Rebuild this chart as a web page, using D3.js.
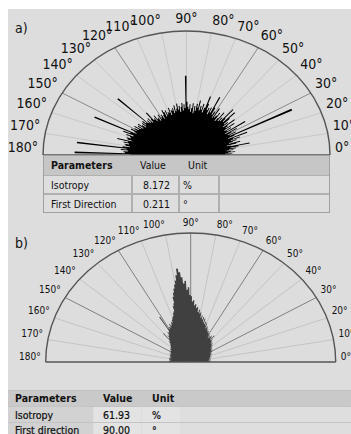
<!DOCTYPE html>
<html><head><meta charset="utf-8">
<script src="https://cdn.jsdelivr.net/npm/d3@7"></script>
<style>html,body{margin:0;padding:0;background:#fff}svg{display:block}</style>
</head><body>
<svg id="chart" width="351" height="434"></svg>
<script>
// Polar tick marks (degrees) and their labels
const tickAngles = [0, 10, 20, 30, 40, 50, 60, 70, 80, 90, 100, 110, 120, 130, 140, 150, 160, 170, 180];
const tickLabels = ["0°", "10°", "20°", "30°", "40°", "50°", "60°", "70°", "80°", "90°", "100°", "110°", "120°", "130°", "140°", "150°", "160°", "170°", "180°"];
const majorTicks = [30, 60, 90, 120, 150];

// Directional rose a): relative amplitude per 1° bin (bin i covers i..i+1°)
const roseA = [
  .30,.27,.32,.29,.34,.31,.28,.33,.30,.35,
  .31,.37,.45,.32,.29,.36,.39,.31,.34,.37,
  .33,.40,.35,.46,.32,.37,.82,.34,.39,.33,
  .36,.41,.32,.49,.34,.38,.33,.42,.35,.37,
  .44,.34,.39,.36,.42,.48,.37,.40,.49,.36,
  .39,.35,.43,.37,.34,.41,.38,.36,.44,.35,
  .40,.37,.43,.52,.38,.42,.36,.41,.39,.44,
  .50,.40,.36,.43,.38,.41,.37,.45,.39,.42,
  .36,.40,.34,.42,.38,.35,.41,.37,.39,.43,
  .64,.38,.41,.36,.42,.39,.35,.40,.37,.42,
  .38,.36,.41,.35,.39,.37,.38,.34,.40,.36,
  .37,.35,.39,.34,.38,.40,.36,.33,.37,.35,
  .34,.38,.33,.36,.35,.39,.34,.37,.36,.44,
  .38,.35,.40,.36,.39,.37,.66,.38,.41,.37,
  .40,.36,.39,.42,.37,.41,.38,.43,.39,.42,
  .40,.44,.41,.39,.71,.43,.48,.40,.45,.42,
  .41,.44,.43,.40,.50,.42,.45,.41,.44,.43,
  .40,.45,.77,.42,.46,.41,.44,.43,.78,.39
];

// Directional rose b): relative amplitude per 1° bin
const roseB = [
  .13,.14,.13,.14,.13,.12,.14,.13,.14,.13,
  .14,.13,.14,.13,.14,.15,.14,.15,.14,.15,
  .14,.15,.16,.15,.16,.15,.16,.15,.17,.16,
  .17,.16,.17,.18,.17,.18,.17,.18,.19,.18,
  .19,.20,.19,.21,.20,.21,.20,.22,.21,.23,
  .22,.26,.22,.24,.25,.23,.24,.22,.25,.24,
  .26,.25,.27,.26,.28,.27,.29,.30,.28,.32,
  .30,.33,.31,.35,.32,.36,.34,.37,.35,.39,
  .38,.41,.39,.43,.42,.45,.44,.48,.47,.51,
  .52,.58,.56,.63,.61,.66,.70,.73,.68,.64,
  .61,.58,.55,.52,.47,.45,.41,.40,.38,.37,
  .36,.35,.33,.34,.32,.31,.33,.30,.31,.29,
  .30,.41,.28,.27,.28,.26,.25,.26,.24,.23,
  .29,.22,.21,.22,.20,.20,.19,.19,.18,.18,
  .18,.17,.18,.17,.17,.17,.16,.16,.17,.16,
  .16,.16,.15,.16,.15,.15,.16,.15,.15,.15,
  .15,.15,.14,.15,.15,.14,.15,.14,.15,.15,
  .15,.14,.15,.15,.14,.15,.14,.15,.15,.15
];

// Parameter tables
const paramsA = ["Parameters", "Isotropy", "First Direction"];
const valuesA = ["Value", "8.172", "0.211"];
const unitsA  = ["Unit", "%", "°"];
const paramsB = ["Parameters", "Isotropy", "First direction"];
const valuesB = ["Value", "61.93", "90.00"];
const unitsB  = ["Unit", "%", "°"];

const FONT = "'DejaVu Sans Condensed', 'DejaVu Sans', sans-serif";
const svg = d3.select("#chart");

svg.append("rect").attr("x", 8).attr("y", 9).attr("width", 343).attr("height", 425).attr("fill", "#dddddd");

const angle = d3.scaleLinear().domain([0, 180]).range([0, Math.PI]);

function rosePanel(cfg) {
  const { cx, cy, rx, ry, values, fill, labelSize, gap, lift, spokeLight, spokeDark, ninetyDark } = cfg;
  const rr = d3.scaleLinear().domain([0, 1]).range([0, 100]);
  const px = (deg, r) => cx + rx * r * Math.cos(angle(deg));
  const py = (deg, r) => cy - ry * r * Math.sin(angle(deg));
  const g = svg.append("g");

  // spokes
  g.selectAll("line.spoke").data(tickAngles.filter(d => d > 0 && d < 180)).join("line")
    .attr("x1", cx).attr("y1", cy)
    .attr("x2", d => px(d, 1)).attr("y2", d => py(d, 1))
    .attr("stroke", d => (majorTicks.includes(d) && (d !== 90 || ninetyDark)) ? spokeDark : spokeLight)
    .attr("stroke-width", 1);

  // rose histogram as a stepped radial outline
  const pts = [{ a: 0, r: 0 }];
  values.forEach((v, i) => { pts.push({ a: i, r: v }); pts.push({ a: i + 1, r: v }); });
  pts.push({ a: 180, r: 0 });
  const radial = d3.lineRadial()
    .angle(d => Math.PI / 2 - angle(d.a))
    .radius(d => rr(d.r));
  g.append("g")
    .attr("transform", `translate(${cx},${cy}) scale(${rx / 100},${ry / 100})`)
    .append("path").attr("d", radial(pts) + "Z").attr("fill", fill);

  // outer arc and baseline
  g.append("path")
    .attr("d", `M${cx - rx},${cy} A${rx},${ry} 0 0 1 ${cx + rx},${cy}`)
    .attr("fill", "none").attr("stroke", "#555").attr("stroke-width", 1.4);
  g.append("line").attr("x1", cx - rx).attr("x2", cx + rx).attr("y1", cy).attr("y2", cy)
    .attr("stroke", "#555").attr("stroke-width", 1.4);

  // degree labels
  g.selectAll("text.tick").data(tickAngles).join("text")
    .attr("x", d => cx + (rx + gap) * Math.cos(angle(d)))
    .attr("y", d => cy - (ry + gap) * Math.sin(angle(d)) - lift)
    .attr("text-anchor", d => d < 88 ? "start" : d > 92 ? "end" : "middle")
    .attr("font-family", FONT).attr("font-size", labelSize).attr("fill", "#111")
    .text((d, i) => tickLabels[i]);
}

rosePanel({ cx: 186.5, cy: 155, rx: 143.5, ry: 124, values: roseA, fill: "#000",
  labelSize: 14, gap: 5, lift: 3, spokeLight: "#c8c8c8", spokeDark: "#8a8a8a", ninetyDark: false });
rosePanel({ cx: 190.7, cy: 362, rx: 145, ry: 129, values: roseB, fill: "#404040",
  labelSize: 10, gap: 5, lift: 2, spokeLight: "#c4c4c4", spokeDark: "#808080", ninetyDark: true });

// panel letters
svg.append("text").attr("x", 15).attr("y", 33).attr("font-family", FONT).attr("font-size", 14).attr("fill", "#111").text("a)");
svg.append("text").attr("x", 15).attr("y", 248).attr("font-family", FONT).attr("font-size", 14).attr("fill", "#111").text("b)");

// table a
(function () {
  const x0 = 43, x1 = 330, rows = [155, 175, 194, 213];
  const cols = [43, 132, 179, 219, 330];
  const g = svg.append("g");
  g.append("rect").attr("x", x0).attr("y", rows[0]).attr("width", x1 - x0).attr("height", rows[1] - rows[0]).attr("fill", "#c6c6c6");
  for (let r = 1; r < 3; r++) {
    for (let c = 0; c < 4; c++) {
      g.append("rect").attr("x", cols[c] + 0.5).attr("y", rows[r] + 0.5)
        .attr("width", cols[c + 1] - cols[c] - 1).attr("height", rows[r + 1] - rows[r] - 1)
        .attr("fill", "#dedede").attr("stroke", "#b0b0b0");
    }
  }
  g.append("rect").attr("x", x0 + 0.5).attr("y", rows[0] + 0.5).attr("width", x1 - x0 - 1).attr("height", rows[3] - rows[0] - 1)
    .attr("fill", "none").attr("stroke", "#a0a0a0");
  const base = [169, 189, 208];
  paramsA.forEach((t, i) => g.append("text").attr("x", 51).attr("y", base[i]).attr("font-family", FONT)
    .attr("font-size", 10.5).attr("font-weight", i === 0 ? "bold" : "normal").attr("fill", "#111").text(t));
  valuesA.forEach((t, i) => g.append("text").attr("x", i === 0 ? 140 : 170).attr("y", base[i])
    .attr("text-anchor", i === 0 ? "start" : "end").attr("font-family", FONT).attr("font-size", 10.5).attr("fill", "#111").text(t));
  unitsA.forEach((t, i) => g.append("text").attr("x", i === 0 ? 188 : 183).attr("y", base[i]).attr("font-family", FONT)
    .attr("font-size", 10.5).attr("fill", "#111").text(t));
})();

// table b
(function () {
  const rows = [390, 406, 422, 438];
  const cols = [8, 94, 142, 181, 351];
  const cellFill = ["#d2d2d2", "#e3e3e3", "#e3e3e3", "#dedede"];
  const g = svg.append("g");
  g.append("rect").attr("x", 8).attr("y", rows[0]).attr("width", 343).attr("height", rows[1] - rows[0]).attr("fill", "#c9c9c9");
  g.append("line").attr("x1", 8).attr("x2", 351).attr("y1", rows[0] + 0.5).attr("y2", rows[0] + 0.5).attr("stroke", "#c2c2c2");
  for (let r = 1; r < 3; r++) {
    for (let c = 0; c < 4; c++) {
      g.append("rect").attr("x", cols[c]).attr("y", rows[r] + 1)
        .attr("width", cols[c + 1] - cols[c] - 1).attr("height", rows[r + 1] - rows[r] - 1)
        .attr("fill", cellFill[c]);
    }
    g.append("line").attr("x1", 8).attr("x2", 351).attr("y1", rows[r] + 0.5).attr("y2", rows[r] + 0.5).attr("stroke", "#c4c4c4");
  }
  const base = [402, 419, 434];
  const style = (s, i) => s.attr("font-family", FONT).attr("font-size", 10.5).attr("fill", "#111")
    .attr("font-weight", i === 0 ? "bold" : "normal").attr("stroke", i === 0 ? "none" : "#111").attr("stroke-width", 0.22);
  paramsB.forEach((t, i) => style(g.append("text").attr("x", 15).attr("y", base[i]), i).text(t));
  valuesB.forEach((t, i) => style(g.append("text").attr("x", 103).attr("y", base[i]), i).text(t));
  unitsB.forEach((t, i) => style(g.append("text").attr("x", 152).attr("y", base[i]), i).text(t));
})();
</script>
</body></html>
